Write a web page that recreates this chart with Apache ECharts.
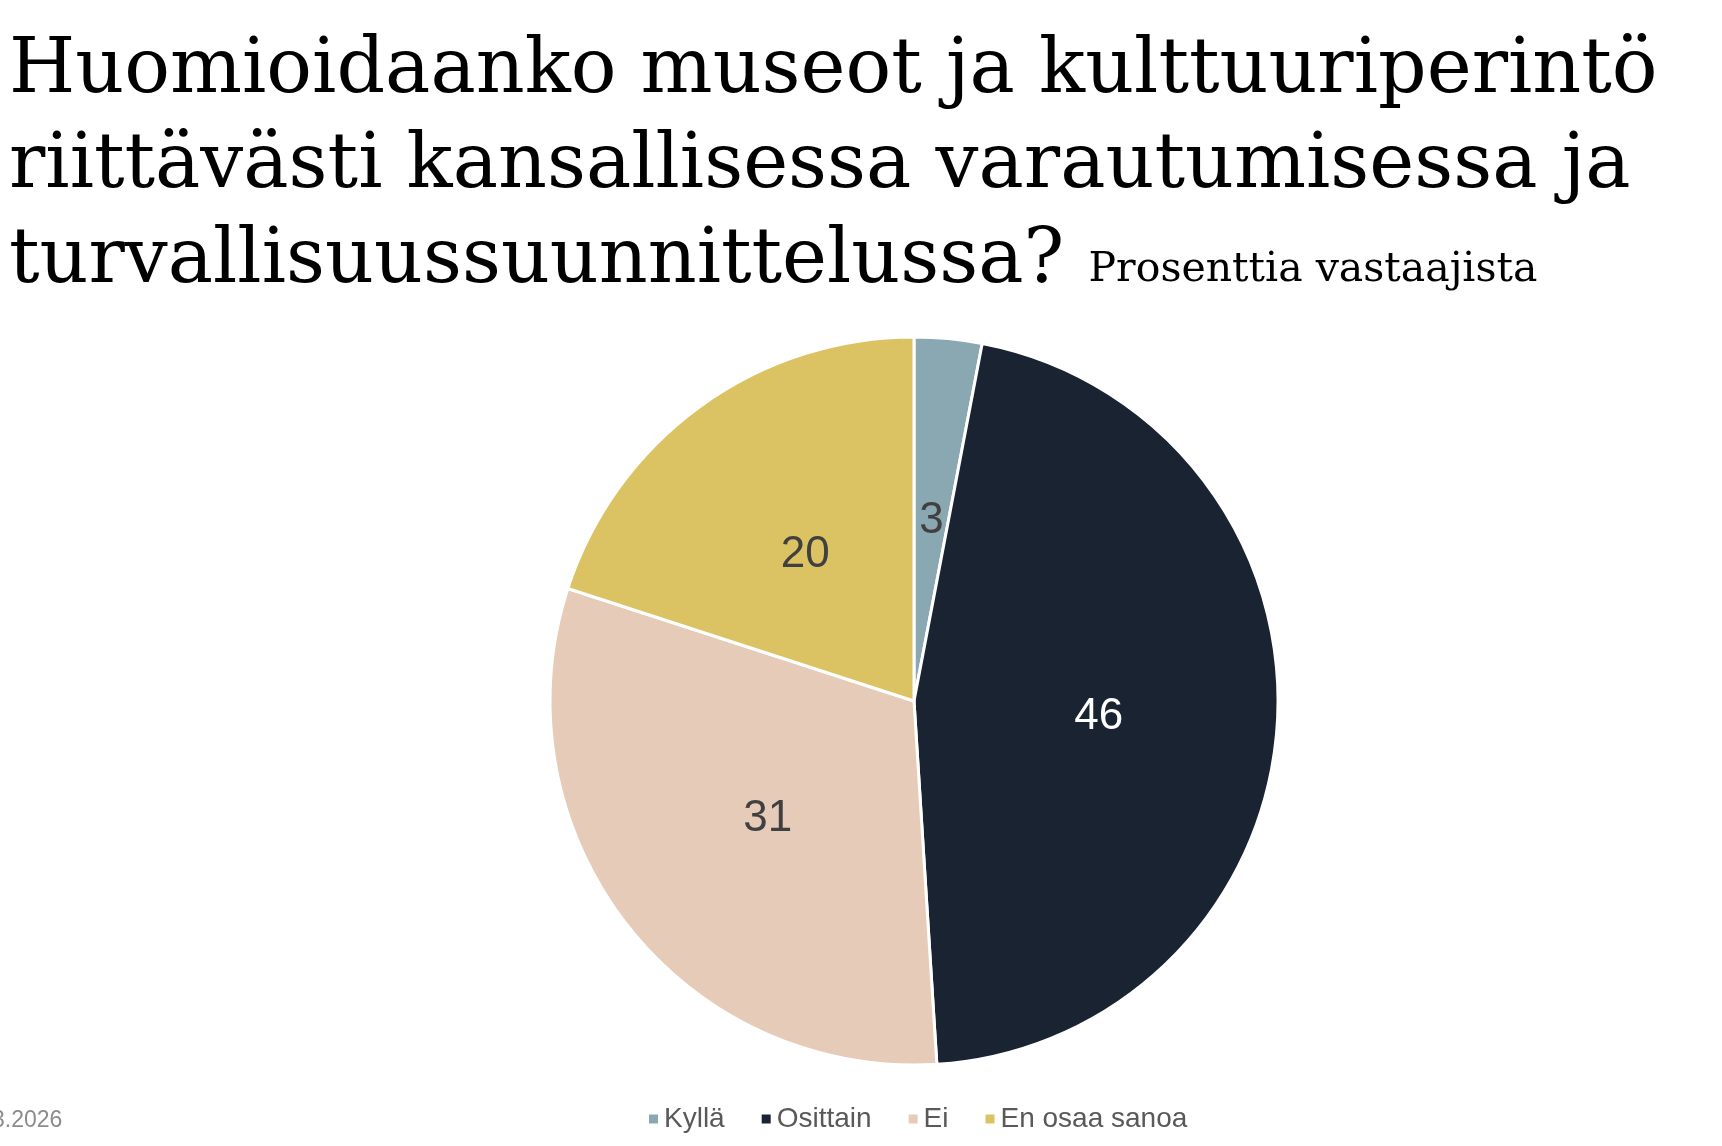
<!DOCTYPE html>
<html>
<head>
<meta charset="utf-8">
<script src="https://cdn.jsdelivr.net/npm/echarts@6/dist/echarts.min.js"></script>
<style>
  html, body { margin: 0; padding: 0; background: #fff; }
  #pie_chart { width: 1722px; height: 1146px; }
</style>
</head>
<body>
<div id="pie_chart"></div>
<script>
// vastausvaihtoehdot ja osuudet (%)
var categories = ['Kyllä', 'Osittain', 'Ei', 'En osaa sanoa'];
var values = [3, 46, 31, 20];
var colors = ['#8aa8b2', '#1a2332', '#e6cbb9', '#dbc262'];
var labelColors = ['#404040', '#ffffff', '#404040', '#404040'];

var pie_chart = echarts.init(document.getElementById('pie_chart'));

var pieData = categories.map(function (name, i) {
	return {
		name: name,
		value: values[i],
		itemStyle: { color: colors[i] },
		label: { color: labelColors[i] }
	};
});

var option = {
	backgroundColor: '#fff',
	title: {
		left: 4,
		top: 20,
		text: 'Huomioidaanko museot ja kulttuuriperintö\nriittävästi kansallisessa varautumisessa ja\nturvallisuussuunnittelussa? {s|Prosenttia vastaajista}',
		textStyle: {
			fontFamily: 'DejaVu Serif',
			fontWeight: 'normal',
			fontSize: 76,
			lineHeight: 95,
			color: '#000',
			rich: {
				s: {
					fontFamily: 'DejaVu Serif',
					fontSize: 41,
					color: '#000',
					verticalAlign: 'bottom',
					padding: [0, 0, 19, 0]
				}
			}
		}
	},
	legend: {
		left: 642,
		top: 1100,
		icon: 'rect',
		itemWidth: 11,
		itemHeight: 11,
		itemGap: 35,
		textStyle: {
			fontFamily: 'Liberation Sans',
			fontSize: 28,
			color: '#595959'
		},
		data: categories
	},
	graphic: [{
		type: 'text',
		left: -8,
		top: 1109,
		style: {
			text: '3.2026',
			font: '23px "Liberation Sans"',
			fill: '#8c8c8c'
		}
	}],
	series: [{
		name: 'Prosenttia vastaajista',
		type: 'pie',
		center: [914, 701],
		radius: [0, 364],
		startAngle: 90,
		clockwise: true,
		silent: true,
		itemStyle: {
			borderColor: '#fff',
			borderWidth: 3
		},
		label: {
			show: true,
			position: 'inside',
			formatter: '{c}',
			fontFamily: 'Liberation Sans',
			fontSize: 44,
			offset: [0, 4]
		},
		labelLine: { show: false },
		data: pieData
	}]
};

pie_chart.setOption(option);
</script>
</body>
</html>
